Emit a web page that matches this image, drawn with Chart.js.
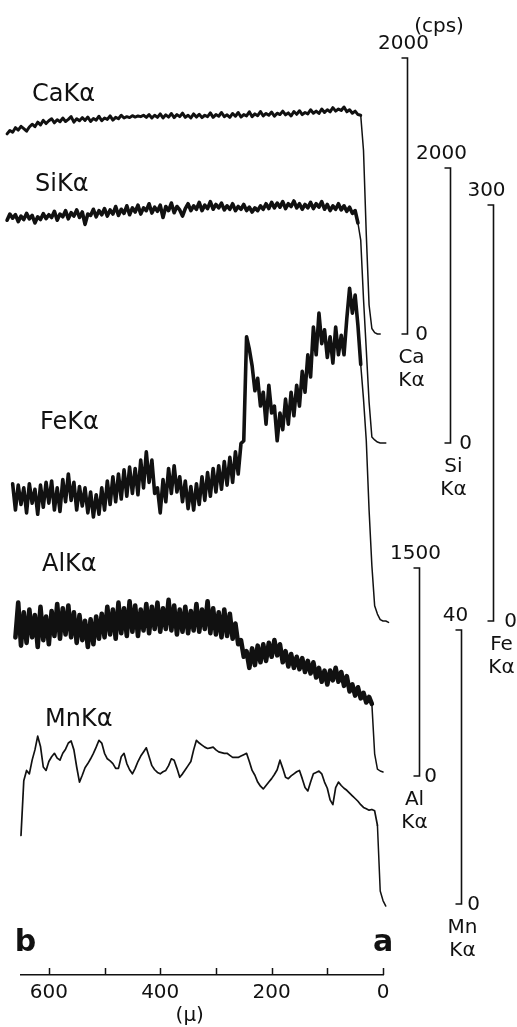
<!DOCTYPE html>
<html>
<head>
<meta charset="utf-8">
<script src="https://cdn.jsdelivr.net/npm/chart.js@4.4.1/dist/chart.umd.min.js"></script>
<style>
  html, body { margin: 0; padding: 0; background: #ffffff; }
  #wrap { width: 517px; height: 1027px; position: relative; }
</style>
</head>
<body>
<div id="wrap"><canvas id="c" width="517" height="1027"></canvas></div>
<script>
// ---------- DATA (distance from point a, in microns; intensities in cps) ----------
const positions = [
  675,670,665,660,655,650,645,640,635,630,
  625,620,615,610,605,600,595,590,585,580,
  575,570,565,560,555,550,545,540,535,530,
  525,520,515,510,505,500,495,490,485,480,
  475,470,465,460,455,450,445,440,435,430,
  425,420,415,410,405,400,395,390,385,380,
  375,370,365,360,355,350,345,340,335,330,
  325,320,315,310,305,300,295,290,285,280,
  275,270,265,260,255,250,245,240,235,230,
  225,220,215,210,205,200,195,190,185,180,
  175,170,165,160,155,150,145,140,135,130,
  125,120,115,110,105,100,95,90,85,80,
  75,70,65,60,55,50,45,40,35,30,
  25,20,15,10,5,0,-5,-10
];

const caKa = [
  1450,1475,1462,1495,1478,1505,1488,1470,1500,1520,
  1502,1535,1515,1548,1525,1545,1560,1530,1552,1538,
  1565,1540,1555,1575,1535,1560,1545,1568,1548,1572,
  1540,1562,1550,1578,1545,1565,1555,1580,1550,1570,
  1560,1585,1565,1575,1568,1582,1572,1580,1575,1585,
  1570,1590,1565,1585,1570,1595,1565,1588,1572,1598,
  1568,1590,1575,1600,1570,1585,1565,1595,1572,1592,
  1568,1585,1575,1602,1570,1590,1578,1605,1575,1588,
  1570,1598,1578,1605,1572,1590,1580,1610,1575,1595,
  1582,1612,1580,1598,1585,1608,1578,1600,1590,1615,
  1588,1602,1580,1612,1592,1618,1590,1605,1595,1625,
  1600,1615,1598,1630,1605,1625,1610,1640,1615,1630,
  1620,1645,1610,1625,1600,1615,1590,1585,1330,720,
  210,40,10,0,0,null,null,null
];

const siKa = [
  1620,1665,1635,1660,1610,1650,1625,1670,1630,1655,
  1600,1645,1625,1668,1632,1660,1640,1685,1620,1665,
  1645,1690,1630,1675,1650,1695,1640,1680,1590,1665,
  1655,1700,1645,1690,1660,1705,1650,1695,1665,1720,
  1655,1700,1670,1725,1660,1710,1680,1730,1665,1710,
  1690,1740,1672,1715,1685,1730,1640,1720,1690,1745,
  1675,1720,1695,1650,1705,1740,1690,1725,1700,1750,
  1690,1730,1705,1755,1700,1735,1710,1745,1695,1725,
  1700,1740,1690,1720,1700,1735,1690,1715,1680,1710,
  1690,1725,1700,1740,1705,1750,1710,1745,1715,1755,
  1705,1740,1720,1760,1710,1740,1700,1735,1710,1750,
  1705,1740,1715,1755,1700,1735,1690,1725,1700,1740,
  1695,1725,1685,1715,1670,1690,1600,1476,1047,676,
  298,44,22,7,0,0,0,null
];

const feKa = [
  null,null,99,80,98,84,96,78,99,85,
  95,77,98,82,100,85,101,80,96,79,
  102,86,106,87,100,80,97,83,96,78,
  93,75,91,77,96,80,101,84,104,86,
  106,88,109,90,111,92,110,91,116,96,
  122,100,116,92,96,78,102,86,110,92,
  112,93,104,86,101,81,97,80,99,84,
  104,87,107,90,110,93,112,95,115,98,
  118,100,122,106,128,130,205,196,184,166,
  175,155,165,142,170,150,155,130,150,138,
  160,142,165,148,170,155,180,165,192,176,
  212,192,222,200,210,190,205,186,212,192,
  206,192,218,240,222,235,213,185,160,130,
  80,40,11,5,1,0,0,-1
];

const alKa = [
  null,null,null,1000,1250,940,1180,960,1200,1000,
  1160,930,1220,980,1150,950,1190,1010,1240,990,
  1210,1020,1230,1000,1180,960,1160,980,1120,930,
  1130,950,1150,990,1170,1000,1220,1020,1200,990,
  1250,1030,1210,1010,1260,1040,1230,1010,1200,1050,
  1240,1030,1220,1060,1250,1040,1210,1060,1270,1050,
  1230,1020,1200,1040,1220,1030,1190,1050,1240,1040,
  1200,1060,1260,1030,1210,1020,1180,1000,1200,1010,
  1170,990,1100,950,980,860,900,780,920,800,
  940,820,950,830,960,860,980,870,950,820,
  900,790,880,780,860,770,850,750,830,740,
  820,710,780,680,760,660,760,690,780,680,
  750,650,720,610,660,580,640,560,600,530,
  570,520,160,50,36,29,null,null
];

const mnKa = [
  null,null,null,null,null,10,18,19.5,19.0,21.0,
  22.5,24.5,23.0,20.0,19.5,20.8,21.5,22.0,21.3,21.0,
  22.0,22.6,23.5,23.8,22.5,20.0,17.8,18.8,19.9,20.5,
  21.2,22.0,22.9,23.9,23.5,22.0,21.2,20.9,20.5,19.8,
  19.8,21.5,22.0,20.5,19.6,19.0,19.8,20.8,21.6,22.2,
  22.8,21.5,20.2,19.6,19.2,19.0,19.3,19.5,20.2,21.2,
  21.0,19.8,18.5,19.0,19.6,20.2,20.8,22.5,23.9,23.5,
  23.2,22.9,22.7,22.8,22.9,22.5,22.2,22.1,22.0,22.0,
  21.7,21.4,21.4,21.4,21.6,21.8,22.0,20.8,19.5,18.8,
  17.8,17.2,16.8,17.3,17.8,18.3,18.9,19.6,21.0,19.8,
  18.5,18.3,18.7,19.0,19.3,19.5,18.3,17.0,16.5,17.8,
  19.0,19.2,19.4,19.0,17.8,16.9,15.2,14.5,17.0,17.8,
  17.3,16.9,16.6,16.2,15.8,15.4,15.0,14.5,14.1,13.9,
  13.7,13.8,13.6,11.5,1.9,0.5,-0.3,null
];

const traceNames  = ['CaKα', 'SiKα', 'FeKα', 'AlKα', 'MnKα'];
const barElements = ['Ca', 'Si', 'Fe', 'Al', 'Mn'];
const scaleFull   = [2000, 2000, 300, 1500, 40];   // cps at top of each scale bar
const edgeAt      = [40, 45, 40, 20, 12];           // microns where each signal falls off
const axisTicks   = [0, 100, 200, 300, 400, 500, 600];
const axisLabeled = [0, 200, 400, 600];

// ---------- LAYOUT (pixels / positions, not data) ----------
const W = 517, H = 1027;
const PLOT_TOP = 0, PLOT_BOTTOM = 975, X_AXIS_H = H - PLOT_BOTTOM;
const FONT = '"DejaVu Sans", "Liberation Sans", sans-serif';
const INK = '#111111';
const bandLayout = [
  { zeroPx: 334, fullPx: 58,  barAt: -43,  topDx: -4, zeroDx: 14, nameDx: 4,  lw: 3.0, labelX: 32, labelY: 95 },
  { zeroPx: 443, fullPx: 168, barAt: -120, topDx: -9, zeroDx: 15, nameDx: 3,  lw: 3.6, labelX: 35, labelY: 185 },
  { zeroPx: 621, fullPx: 205, barAt: -198, topDx: -7, zeroDx: 17, nameDx: 8,  lw: 3.6, labelX: 40, labelY: 423 },
  { zeroPx: 776, fullPx: 568, barAt: -65,  topDx: -4, zeroDx: 11, nameDx: -5, lw: 4.6, labelX: 42, labelY: 565 },
  { zeroPx: 904, fullPx: 630, barAt: -140, topDx: -6, zeroDx: 12, nameDx: 1,  lw: 1.7, labelX: 45, labelY: 720 }
];
const EDGE_LW = 1.5;

const seriesValues = [caKa, siKa, feKa, alKa, mnKa];
const axisIds = ['yCa', 'ySi', 'yFe', 'yAl', 'yMn'];

const yScales = {};
axisIds.forEach((id, i) => {
  const L = bandLayout[i];
  const k = (L.zeroPx - L.fullPx) / scaleFull[i];
  yScales[id] = {
    type: 'linear',
    display: false,
    min: -(PLOT_BOTTOM - L.zeroPx) / k,
    max: (L.zeroPx - PLOT_TOP) / k
  };
});

const datasets = seriesValues.map((vals, i) => ({
  label: traceNames[i],
  data: positions.map((x, j) => ({ x: x, y: vals[j] })),
  yAxisID: axisIds[i],
  borderColor: INK,
  borderWidth: bandLayout[i].lw,
  borderJoinStyle: 'round',
  borderCapStyle: 'round',
  pointRadius: 0,
  tension: 0,
  spanGaps: false,
  clip: false,
  fill: false,
  segment: {
    borderWidth: ctx => (ctx.p0.parsed.x <= edgeAt[i] ? EDGE_LW : bandLayout[i].lw)
  }
}));

const decorations = {
  id: 'decorations',
  afterDraw(chart) {
    const ctx = chart.ctx;
    const xs = chart.scales.x;
    const yb = chart.chartArea.bottom;
    ctx.save();
    ctx.strokeStyle = INK;
    ctx.fillStyle = INK;
    ctx.lineWidth = 1.5;
    axisTicks.forEach(v => {
      const px = Math.round(xs.getPixelForValue(v)) + 0.5;
      ctx.beginPath(); ctx.moveTo(px, yb); ctx.lineTo(px, yb - 7); ctx.stroke();
    });
    ctx.textAlign = 'center';
    ctx.textBaseline = 'middle';
    bandLayout.forEach((L, i) => {
      const ys = chart.scales[axisIds[i]];
      const bx = Math.round(xs.getPixelForValue(L.barAt)) + 0.5;
      const y0 = ys.getPixelForValue(0);
      const y1 = ys.getPixelForValue(scaleFull[i]);
      ctx.lineWidth = 1.6;
      ctx.beginPath();
      ctx.moveTo(bx - 6, y1); ctx.lineTo(bx, y1); ctx.lineTo(bx, y0); ctx.lineTo(bx - 6, y0);
      ctx.stroke();
      ctx.font = '20px ' + FONT;
      ctx.fillText(String(scaleFull[i]), bx + L.topDx, y1 - 14);
      ctx.fillText('0', bx + L.zeroDx, y0 + 1);
      ctx.fillText(barElements[i], bx + L.nameDx, y0 + 24);
      ctx.fillText('Kα', bx + L.nameDx, y0 + 47);
    });
    ctx.font = '20px ' + FONT;
    ctx.fillText('(cps)', 439, 27);
    ctx.textAlign = 'left';
    ctx.font = '24px ' + FONT;
    bandLayout.forEach((L, i) => ctx.fillText(traceNames[i], L.labelX, L.labelY));
    ctx.textAlign = 'center';
    ctx.font = 'bold 30px ' + FONT;
    ctx.fillText('b', xs.getPixelForValue(642), 943);
    ctx.fillText('a', xs.getPixelForValue(0), 943);
    ctx.font = '20px ' + FONT;
    ctx.fillText('(μ)', xs.getPixelForValue(347), 1016);
    ctx.restore();
  }
};

new Chart(document.getElementById('c'), {
  type: 'line',
  data: { datasets: datasets },
  options: {
    responsive: false,
    animation: false,
    devicePixelRatio: 1,
    events: [],
    layout: { padding: { left: 21, right: W - 383, top: PLOT_TOP, bottom: 0 } },
    plugins: { legend: { display: false }, tooltip: { enabled: false } },
    scales: Object.assign({
      x: {
        type: 'linear',
        position: 'bottom',
        reverse: true,
        min: 0,
        max: 650,
        grid: { display: false, drawTicks: false },
        border: { display: true, color: INK, width: 1.6 },
        ticks: {
          color: INK,
          font: { family: FONT, size: 20 },
          padding: 6,
          autoSkip: false,
          maxRotation: 0,
          callback: v => axisLabeled.includes(v) ? String(v) : ''
        },
        afterBuildTicks: s => { s.ticks = axisTicks.map(v => ({ value: v })); },
        afterFit: s => { s.height = X_AXIS_H; }
      }
    }, yScales)
  },
  plugins: [decorations]
});
</script>
</body>
</html>
